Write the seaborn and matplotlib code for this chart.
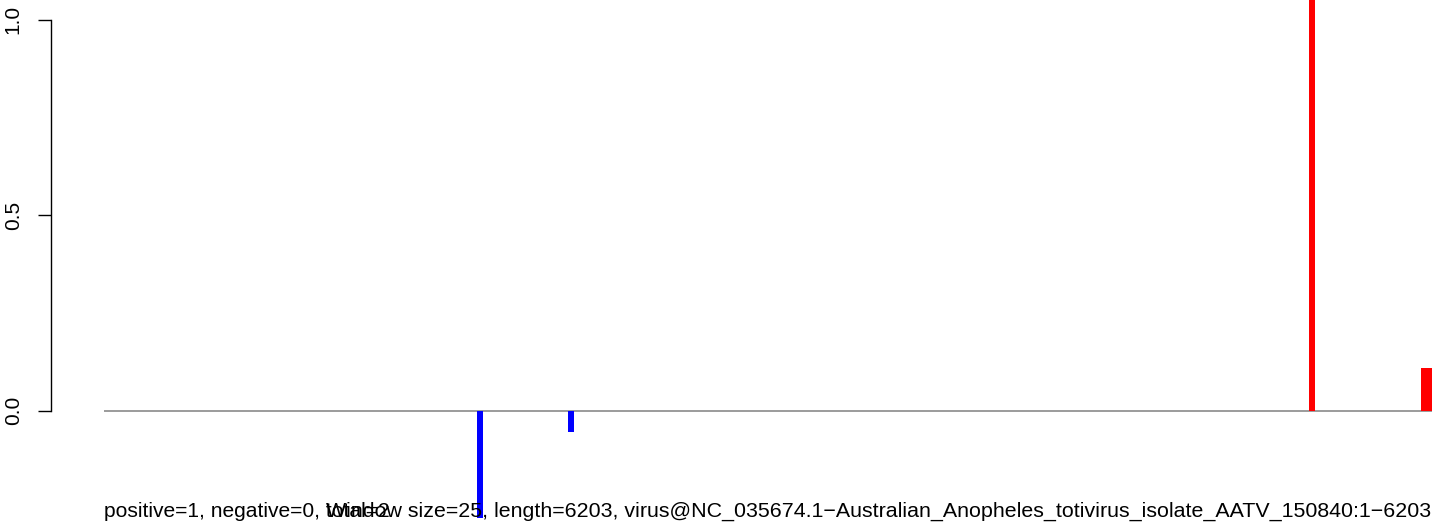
import pandas as pd
import numpy as np
import matplotlib
matplotlib.use("Agg")
import matplotlib.pyplot as plt
import seaborn as sns

# ── Data (window centre in nt, score, strand) ─────
positions = [1756, 2181, 5643, 6166, 6191]
scores = [-0.30, -0.056, 1.10, 0.108, 0.108]
strand = ["neg", "neg", "pos", "pos", "pos"]
seq_length = 6203
y_ticks = [0.0, 0.5, 1.0]
left_note = "positive=1, negative=0, total=2"
right_note = ("Window size=25, length=6203, "
              "virus@NC_035674.1\u2212Australian_Anopheles_totivirus_isolate_AATV_150840:1\u22126203")

df = pd.DataFrame({"pos": positions, "score": scores, "strand": strand})

# ── Style ─────────────────────────────────────────
sns.set_style("white")
plt.rcParams["font.family"] = ["Liberation Sans", "DejaVu Sans"]

fig = plt.figure(figsize=(14.44, 5.29), dpi=100)
ax = fig.add_axes([104 / 1444, 1 - 518 / 529, 1328 / 1444, 518 / 529])

sns.barplot(data=df, x="pos", y="score", hue="strand",
            palette={"pos": "#ff0000", "neg": "#0000ff"}, saturation=1,
            native_scale=True, width=1.0, dodge=False, legend=False,
            linewidth=0, ax=ax)

ax.axhline(0, color="#808080", lw=1.1, zorder=0)

ax.set_xlim(0, seq_length)
ax.set_ylim(-0.275, 1.051)
ax.set_xlabel("")
ax.set_ylabel("")
ax.set_xticks([])

# R-style left axis (53 px left of the plot region)
for s in ["top", "right", "bottom"]:
    ax.spines[s].set_visible(False)
ax.spines["left"].set_position(("outward", 53 * 72 / 100))
ax.spines["left"].set_bounds(0, 1)
ax.spines["left"].set_color("black")
ax.spines["left"].set_linewidth(1.0)
ax.set_yticks(y_ticks)
ax.set_yticklabels([f"{v:.1f}" for v in y_ticks])
ax.tick_params(axis="y", left=True, length=9.4, width=1.0, color="black",
               labelsize=15, pad=11, labelrotation=90, labelcolor="black")
for lab in ax.get_yticklabels():
    lab.set_va("center")

fig.text(104 / 1444, 1 - 517 / 529, left_note, ha="left", va="baseline",
         fontsize=15.1, color="black")
fig.text(1431 / 1444, 1 - 517 / 529, right_note, ha="right", va="baseline",
         fontsize=15.4, color="black")

fig.savefig("out.png", dpi=100)
